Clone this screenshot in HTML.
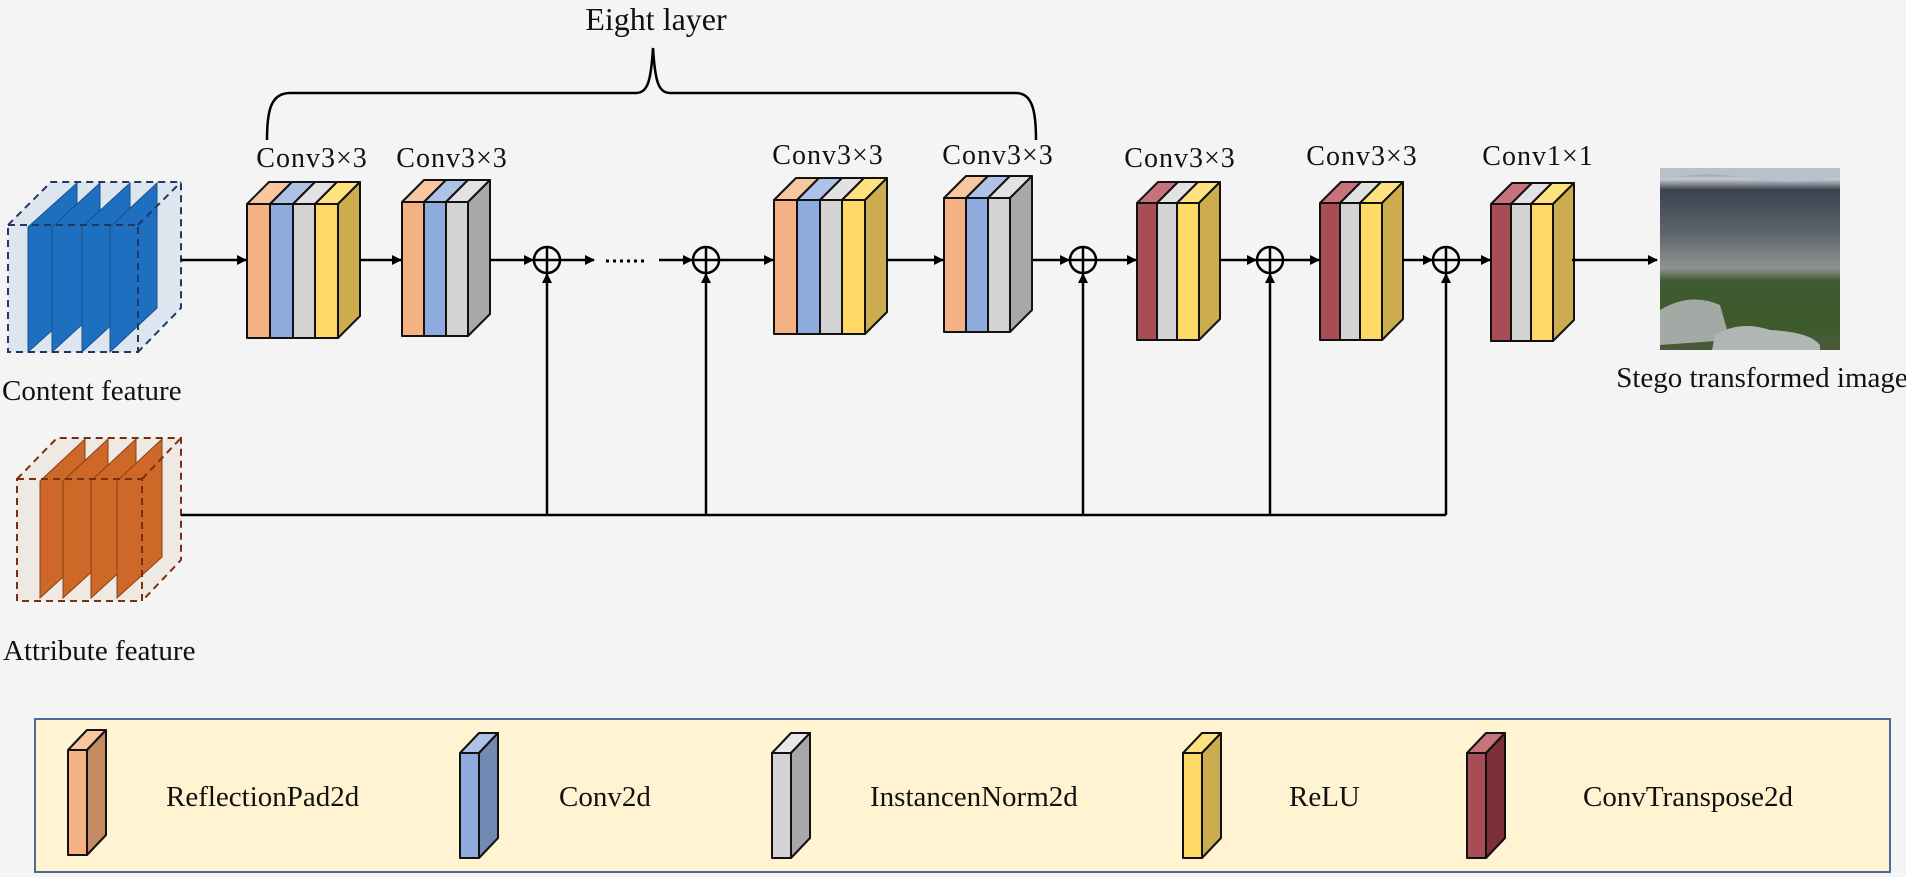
<!DOCTYPE html>
<html><head><meta charset="utf-8"><style>
html,body{margin:0;padding:0;background:#f4f4f4;}
svg{display:block;}
text{font-family:"Liberation Serif",serif;fill:#111;}
</style></head><body>
<svg width="1906" height="877" viewBox="0 0 1906 877" xmlns="http://www.w3.org/2000/svg">
<defs>
<marker id="ar" markerWidth="10" markerHeight="10" refX="9" refY="5" orient="auto" markerUnits="userSpaceOnUse">
<path d="M0,0 L10,5 L0,10 Z" fill="#000"/></marker>
<g id="b4" stroke="#111" stroke-width="2" stroke-linejoin="round">
<polygon points="0,0 22,-22 45,-22 23,0" fill="#f8c7a0"/>
<polygon points="23,0 45,-22 68,-22 46,0" fill="#adc2e6"/>
<polygon points="46,0 68,-22 90,-22 68,0" fill="#e2e2e2"/>
<polygon points="68,0 90,-22 113,-22 91,0" fill="#ffe17f"/>
<polygon points="91,0 113,-22 113,112 91,134" fill="#ccac4e"/>
<rect x="0" y="0" width="23" height="134" fill="#f4b183"/>
<rect x="23" y="0" width="23" height="134" fill="#8faadc"/>
<rect x="46" y="0" width="22" height="134" fill="#d3d3d3"/>
<rect x="68" y="0" width="23" height="134" fill="#ffd966"/>
</g>
<g id="b3" stroke="#111" stroke-width="2" stroke-linejoin="round">
<polygon points="0,0 22,-22 44,-22 22,0" fill="#f8c7a0"/>
<polygon points="22,0 44,-22 66,-22 44,0" fill="#adc2e6"/>
<polygon points="44,0 66,-22 88,-22 66,0" fill="#e2e2e2"/>
<polygon points="66,0 88,-22 88,112 66,134" fill="#a8a8a8"/>
<rect x="0" y="0" width="22" height="134" fill="#f4b183"/>
<rect x="22" y="0" width="22" height="134" fill="#8faadc"/>
<rect x="44" y="0" width="22" height="134" fill="#d3d3d3"/>
</g>
<g id="br" stroke="#111" stroke-width="2" stroke-linejoin="round">
<polygon points="0,0 21,-21 41,-21 20,0" fill="#c8737c"/>
<polygon points="20,0 41,-21 61,-21 40,0" fill="#e2e2e2"/>
<polygon points="40,0 61,-21 83,-21 62,0" fill="#ffe17f"/>
<polygon points="62,0 83,-21 83,116 62,137" fill="#ccac4e"/>
<rect x="0" y="0" width="20" height="137" fill="#a64d55"/>
<rect x="20" y="0" width="20" height="137" fill="#d3d3d3"/>
<rect x="40" y="0" width="22" height="137" fill="#ffd966"/>
</g>
<linearGradient id="img" x1="0" y1="0" x2="0" y2="1">
<stop offset="0" stop-color="#5a6478"/><stop offset="0.06" stop-color="#c9cdd3"/>
<stop offset="0.12" stop-color="#3b4250"/><stop offset="0.35" stop-color="#5c636b"/>
<stop offset="0.55" stop-color="#8d9392"/><stop offset="0.62" stop-color="#3f5a32"/>
<stop offset="0.85" stop-color="#3c5a2c"/><stop offset="1" stop-color="#4a5a3a"/>
</linearGradient>
</defs>

<text x="656" y="30" font-size="32" text-anchor="middle">Eight layer</text>
<path d="M267,140 C267,110 271,93 290,93 L636,93 C648,93 651,80 653,48 C655,80 658,93 670,93 L1016,93 C1032,93 1036,110 1036,140" fill="none" stroke="#000" stroke-width="2.5"/>

<g>
<polygon points="8,225 51,182 181,182 181,308 138,352 8,352" fill="#dde6ef"/>
<polygon points="28,227 77,183 77,308 28,352" fill="#1f6fc0" stroke="#1a4f8a" stroke-width="1"/>
<polygon points="52,227 100,183 100,308 52,352" fill="#1f6fc0" stroke="#1a4f8a" stroke-width="1"/>
<polygon points="82,227 130,183 130,308 82,352" fill="#1f6fc0" stroke="#1a4f8a" stroke-width="1"/>
<polygon points="110,227 157,183 157,308 110,352" fill="#1f6fc0" stroke="#1a4f8a" stroke-width="1"/>
<g fill="none" stroke="#1f3864" stroke-width="2" stroke-dasharray="7,5">
<rect x="8" y="225" width="130" height="127"/>
<polyline points="8,225 51,182 181,182 181,308 138,352"/>
<line x1="138" y1="225" x2="181" y2="182"/>
</g>
</g>
<text x="2" y="400" font-size="29">Content feature</text>

<g>
<polygon points="17,479 57,438 181,438 181,560 142,601 17,601" fill="#efe9e4"/>
<polygon points="40,481 85,439 85,557 40,598" fill="#cd6828" stroke="#8a4015" stroke-width="1"/>
<polygon points="63,481 108,439 108,557 63,598" fill="#cd6828" stroke="#8a4015" stroke-width="1"/>
<polygon points="91,481 136,439 136,557 91,598" fill="#cd6828" stroke="#8a4015" stroke-width="1"/>
<polygon points="117,481 162,439 162,557 117,598" fill="#cd6828" stroke="#8a4015" stroke-width="1"/>
<g fill="none" stroke="#7a2e10" stroke-width="2" stroke-dasharray="7,5">
<rect x="17" y="479" width="125" height="122"/>
<polyline points="17,479 57,438 181,438 181,560 142,601"/>
<line x1="142" y1="479" x2="181" y2="438"/>
</g>
</g>
<text x="3" y="660" font-size="29">Attribute feature</text>

<use href="#b4" x="247" y="204"/>
<use href="#b3" x="402" y="202"/>
<use href="#b4" x="774" y="200"/>
<use href="#b3" x="944" y="198"/>
<use href="#br" x="1137" y="203"/>
<use href="#br" x="1320" y="203"/>
<use href="#br" x="1491" y="204"/>

<g font-size="28" text-anchor="middle" letter-spacing="1">
<text x="312" y="167">Conv3×3</text>
<text x="452" y="167">Conv3×3</text>
<text x="828" y="164">Conv3×3</text>
<text x="998" y="164">Conv3×3</text>
<text x="1180" y="167">Conv3×3</text>
<text x="1362" y="165">Conv3×3</text>
<text x="1538" y="165">Conv1×1</text>
</g>

<g stroke="#000" stroke-width="2.5" fill="none">
<line x1="181" y1="260" x2="246" y2="260" marker-end="url(#ar)"/>
<line x1="360" y1="260" x2="401" y2="260" marker-end="url(#ar)"/>
<line x1="490" y1="260" x2="533" y2="260" marker-end="url(#ar)"/>
<line x1="560" y1="260" x2="594" y2="260" marker-end="url(#ar)"/>
<line x1="659" y1="260" x2="692" y2="260" marker-end="url(#ar)"/>
<line x1="719" y1="260" x2="773" y2="260" marker-end="url(#ar)"/>
<line x1="887" y1="260" x2="943" y2="260" marker-end="url(#ar)"/>
<line x1="1033" y1="260" x2="1069" y2="260" marker-end="url(#ar)"/>
<line x1="1096" y1="260" x2="1136" y2="260" marker-end="url(#ar)"/>
<line x1="1219" y1="260" x2="1256" y2="260" marker-end="url(#ar)"/>
<line x1="1283" y1="260" x2="1319" y2="260" marker-end="url(#ar)"/>
<line x1="1402" y1="260" x2="1432" y2="260" marker-end="url(#ar)"/>
<line x1="1459" y1="260" x2="1490" y2="260" marker-end="url(#ar)"/>
<line x1="1572" y1="260" x2="1657" y2="260" marker-end="url(#ar)"/>
<line x1="181" y1="515" x2="1446" y2="515"/>
<line x1="547" y1="515" x2="547" y2="274" marker-end="url(#ar)"/>
<line x1="706" y1="515" x2="706" y2="274" marker-end="url(#ar)"/>
<line x1="1083" y1="515" x2="1083" y2="274" marker-end="url(#ar)"/>
<line x1="1270" y1="515" x2="1270" y2="274" marker-end="url(#ar)"/>
<line x1="1446" y1="515" x2="1446" y2="274" marker-end="url(#ar)"/>
</g>
<g stroke="#000" stroke-width="2.5" fill="none">
<circle cx="547" cy="260" r="13"/><line x1="534" y1="260" x2="560" y2="260"/><line x1="547" y1="247" x2="547" y2="273"/>
<circle cx="706" cy="260" r="13"/><line x1="693" y1="260" x2="719" y2="260"/><line x1="706" y1="247" x2="706" y2="273"/>
<circle cx="1083" cy="260" r="13"/><line x1="1070" y1="260" x2="1096" y2="260"/><line x1="1083" y1="247" x2="1083" y2="273"/>
<circle cx="1270" cy="260" r="13"/><line x1="1257" y1="260" x2="1283" y2="260"/><line x1="1270" y1="247" x2="1270" y2="273"/>
<circle cx="1446" cy="260" r="13"/><line x1="1433" y1="260" x2="1459" y2="260"/><line x1="1446" y1="247" x2="1446" y2="273"/>
</g>
<line x1="606" y1="261" x2="646" y2="261" stroke="#000" stroke-width="3" stroke-dasharray="3,4"/>

<rect x="1660" y="168" width="180" height="182" fill="url(#img)"/>
<path d="M1660,180 Q1700,170 1750,178 T1840,176 L1840,168 L1660,168 Z" fill="#b8c0cc"/>
<path d="M1660,310 Q1690,292 1720,305 L1730,340 L1660,345 Z" fill="#a3aaa6"/>
<path d="M1715,335 Q1740,320 1770,330 Q1810,332 1820,345 L1820,350 L1712,350 Z" fill="#b0b6b4"/>
<text x="1762" y="387" font-size="29" text-anchor="middle">Stego transformed image</text>

<rect x="35" y="719" width="1855" height="153" fill="#fff3d1" stroke="#4a6a9a" stroke-width="2"/>
<g stroke="#111" stroke-width="2" stroke-linejoin="round">
<polygon points="68,750 87,730 106,730 87,750" fill="#f8c7a0"/>
<polygon points="87,750 106,730 106,835 87,855" fill="#c48b63"/>
<rect x="68" y="750" width="19" height="105" fill="#f4b183"/>
<polygon points="460,753 479,733 498,733 479,753" fill="#adc2e6"/>
<polygon points="479,753 498,733 498,838 479,858" fill="#7189b3"/>
<rect x="460" y="753" width="19" height="105" fill="#8faadc"/>
<polygon points="772,753 791,733 810,733 791,753" fill="#e8e8e8"/>
<polygon points="791,753 810,733 810,838 791,858" fill="#a8a8a8"/>
<rect x="772" y="753" width="19" height="105" fill="#d3d3d3"/>
<polygon points="1183,753 1202,733 1221,733 1202,753" fill="#ffe17f"/>
<polygon points="1202,753 1221,733 1221,838 1202,858" fill="#ccac4e"/>
<rect x="1183" y="753" width="19" height="105" fill="#ffd966"/>
<polygon points="1467,753 1486,733 1505,733 1486,753" fill="#c8737c"/>
<polygon points="1486,753 1505,733 1505,838 1486,858" fill="#7e3038"/>
<rect x="1467" y="753" width="19" height="105" fill="#a64d55"/>
</g>
<g font-size="29">
<text x="166" y="806">ReflectionPad2d</text>
<text x="559" y="806">Conv2d</text>
<text x="870" y="806">InstancenNorm2d</text>
<text x="1289" y="806">ReLU</text>
<text x="1583" y="806">ConvTranspose2d</text>
</g>
</svg>
</body></html>
